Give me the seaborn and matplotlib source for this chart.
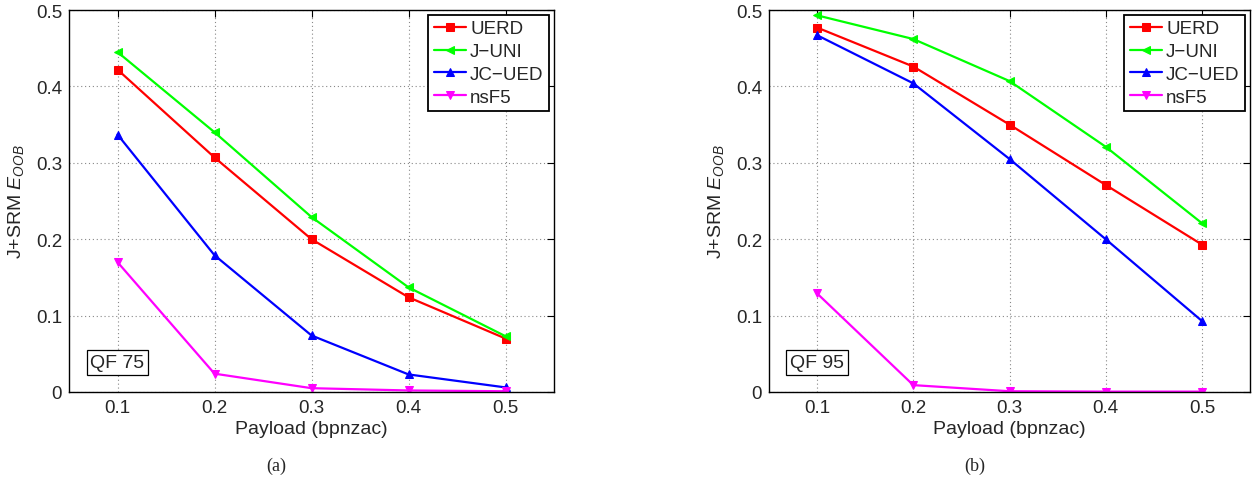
import matplotlib
matplotlib.use("Agg")
import matplotlib.pyplot as plt
import seaborn as sns
import pandas as pd

# Payload levels (bits per non-zero AC DCT coefficient)
payload = [0.1, 0.2, 0.3, 0.4, 0.5]

# Out-of-bag detection error, QF 75
qf75_uerd = [0.422, 0.307, 0.200, 0.124, 0.070]
qf75_juni = [0.445, 0.340, 0.229, 0.137, 0.073]
qf75_jcued = [0.337, 0.179, 0.074, 0.023, 0.006]
qf75_nsf5 = [0.170, 0.024, 0.005, 0.002, 0.001]

# Out-of-bag detection error, QF 95
qf95_uerd = [0.477, 0.426, 0.350, 0.271, 0.193]
qf95_juni = [0.493, 0.462, 0.407, 0.321, 0.221]
qf95_jcued = [0.467, 0.404, 0.305, 0.200, 0.093]
qf95_nsf5 = [0.129, 0.009, 0.001, 0.0005, 0.0005]

methods = ["UERD", "J\u2212UNI", "JC\u2212UED", "nsF5"]
colors = ["#ff0000", "#00ff00", "#0000ff", "#ff00ff"]
markers = ["s", "<", "^", "v"]

panels = [
    ("QF 75", "(a)", [qf75_uerd, qf75_juni, qf75_jcued, qf75_nsf5]),
    ("QF 95", "(b)", [qf95_uerd, qf95_juni, qf95_jcued, qf95_nsf5]),
]

sns.set_style("white")
plt.rcParams["font.family"] = ["Liberation Sans", "DejaVu Sans"]
plt.rcParams["mathtext.fontset"] = "custom"
plt.rcParams["mathtext.it"] = "Liberation Sans:italic"
plt.rcParams["mathtext.rm"] = "Liberation Sans"

W, H = 1260, 481
fig = plt.figure(figsize=(W / 100, H / 100), dpi=100)
# axes boxes in pixels: left, right, top, bottom
boxes = [(69, 554, 11, 393), (769, 1250, 11, 393)]

for (l, r, t, b), (qf, tag, series) in zip(boxes, panels):
    ax = fig.add_axes([l / W, 1 - b / H, (r - l) / W, (b - t) / H])
    for name, vals, c, m in zip(methods, series, colors, markers):
        df = pd.DataFrame({"payload": payload, "err": vals})
        sns.lineplot(data=df, x="payload", y="err", ax=ax, color=c,
                     marker=m, markersize=5.5, markeredgecolor=c,
                     linewidth=1.6, label=name)
    ax.set_xlim(0.05, 0.55)
    ax.set_ylim(0, 0.5)
    ax.set_xticks(payload)
    ax.set_xticklabels(["0.1", "0.2", "0.3", "0.4", "0.5"])
    ax.set_yticks([0, 0.1, 0.2, 0.3, 0.4, 0.5])
    ax.set_yticklabels(["0", "0.1", "0.2", "0.3", "0.4", "0.5"])
    ax.grid(True, linestyle=(0, (1, 2.5)), color="#888888", linewidth=0.8)
    ax.tick_params(direction="in", top=True, right=True, length=5,
                   labelsize=13.5, color="black", pad=5)
    for s in ax.spines.values():
        s.set_color("black")
        s.set_linewidth(1.0)
    ax.set_xlabel("Payload (bpnzac)", fontsize=14, labelpad=3)
    ax.set_ylabel("J+SRM $E_{OOB}$", fontsize=14, labelpad=7)
    leg = ax.legend(loc="upper right", fontsize=13.5, frameon=True,
                    fancybox=False, edgecolor="black", framealpha=1,
                    borderpad=0.3, labelspacing=0.3, handlelength=1.75,
                    handletextpad=0.2, borderaxespad=0.25)
    leg.get_frame().set_linewidth(1.3)
    ax.text(0.1, 0.039, qf, fontsize=14, ha="center", va="center",
            bbox=dict(boxstyle="square,pad=0.2", facecolor="white",
                      edgecolor="black", linewidth=0.9))
    ax.text(0.427, -0.193, tag, transform=ax.transAxes, ha="center",
            va="center", fontsize=13,
            family=["Liberation Serif", "DejaVu Serif"])

fig.savefig("out.png", dpi=100, facecolor="white")
